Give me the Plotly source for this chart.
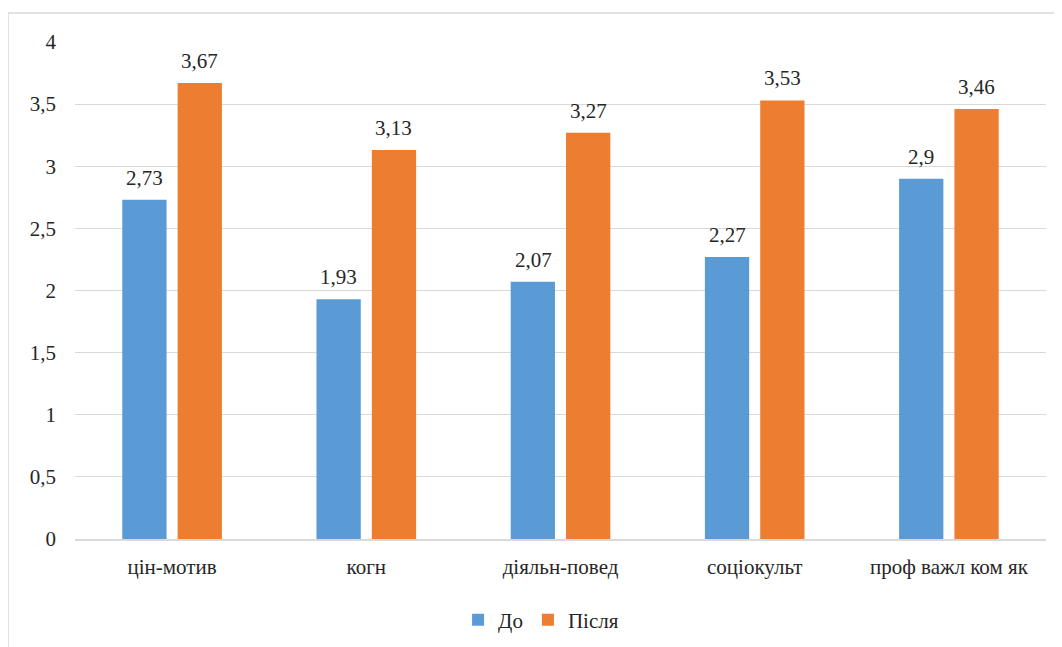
import plotly.graph_objects as go

categories = ["цін-мотив", "когн", "діяльн-повед", "соціокульт", "проф важл ком як"]
do_values = [2.73, 1.93, 2.07, 2.27, 2.9]
pislia_values = [3.67, 3.13, 3.27, 3.53, 3.46]
series_names = ["До", "Після"]

BLUE = "#5B9BD5"
ORANGE = "#ED7D31"
FONT = "Liberation Serif, Times New Roman, DejaVu Serif, serif"
TXT = "#262626"
FS = 21

def fmt(v):
    return f"{v:g}".replace(".", ",")

fig = go.Figure()
annotations = []
for name, vals, col, sh in [(series_names[0], do_values, BLUE, -27.5),
                            (series_names[1], pislia_values, ORANGE, 27.5)]:
    fig.add_trace(go.Bar(
        x=categories, y=vals, name=name,
        marker=dict(color=col, line=dict(width=0)),
    ))
    for c, v in zip(categories, vals):
        annotations.append(dict(
            x=c, y=v, xref="x", yref="y", text=fmt(v), showarrow=False,
            xshift=sh, yshift=8, yanchor="bottom", xanchor="center",
            font=dict(family=FONT, size=FS, color=TXT),
        ))

W, H = 1062, 647
OFF = 8  # page body margin
L, T = 75 - OFF, 42 - OFF
pw, ph = 971, 497
R = W - L - pw
B = H - T - ph
bx = (8 - OFF - L) / pw
by = 1 + (T - (13 - OFF)) / ph

fig.update_layout(
    width=W, height=H,
    margin=dict(l=L, r=R, t=T, b=B, autoexpand=False),
    paper_bgcolor="white", plot_bgcolor="white",
    barmode="group", bargap=0.43, bargroupgap=0.2,
    separators=", ",
    font=dict(family=FONT, size=FS, color=TXT),
    showlegend=True,
    legend=dict(orientation="h", x=0.48, xanchor="center", y=(539 - 620) / ph, yanchor="middle",
                font=dict(family=FONT, size=FS, color=TXT), itemwidth=30,
                traceorder="normal"),
    xaxis=dict(showgrid=False, showline=True, linecolor="#D9D9D9", linewidth=1.5,
               ticks="", ticklabelstandoff=8,
               tickfont=dict(family=FONT, size=FS, color=TXT)),
    yaxis=dict(range=[0, 4], dtick=0.5, showgrid=True, gridcolor="#D9D9D9", gridwidth=1,
               zeroline=False, showline=False, ticks="", ticklabelstandoff=18,
               tickfont=dict(family=FONT, size=FS, color=TXT)),
    annotations=annotations,
    shapes=[
        dict(type="line", xref="paper", yref="paper", x0=bx, x1=bx, y0=by, y1=-0.3,
             line=dict(color="#D9D9D9", width=1.5)),
        dict(type="line", xref="paper", yref="paper", x0=bx, x1=1.1, y0=by, y1=by,
             line=dict(color="#D9D9D9", width=1.5)),
    ],
)

fig.write_html("out.html")
